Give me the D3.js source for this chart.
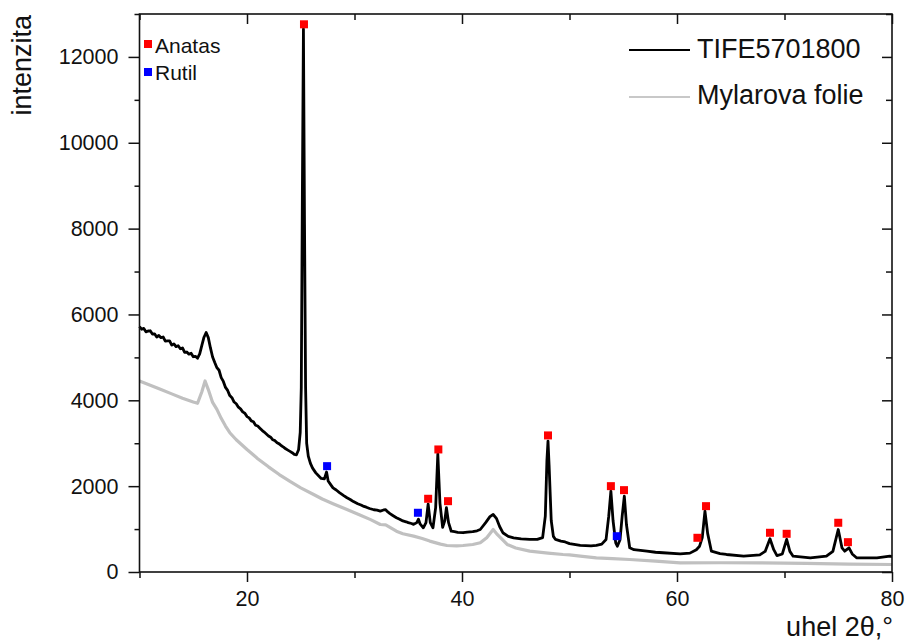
<!DOCTYPE html>
<html>
<head>
<meta charset="utf-8">
<script src="https://cdn.jsdelivr.net/npm/d3@7"></script>
<style>
  body { margin: 0; background: #fff; }
  text { font-family: Arial, "Liberation Sans", sans-serif; fill: #111; }
</style>
</head>
<body>
<div id="chart"></div>
<script>
// sample TIFE5701800, [2theta, intensity]
const tife = [
  [10,5720],[10.2,5655],[10.4,5675],[10.6,5595],[10.8,5615],[11,5620],[11.2,5545],[11.4,5550],
  [11.6,5475],[11.8,5510],[12,5460],[12.2,5475],[12.4,5380],[12.6,5385],[12.8,5385],[13,5285],
  [13.2,5315],[13.4,5250],[13.6,5270],[13.8,5200],[14,5220],[14.2,5115],[14.4,5125],[14.6,5075],
  [14.8,5095],[15,5015],[15.2,5025],[15.4,4980],[15.6,5080],[15.8,5280],[16,5470],[16.2,5580],
  [16.4,5460],[16.6,5220],[16.8,5010],[17,4880],[17.2,4760],[17.4,4700],[17.6,4530],[17.8,4440],
  [18,4300],[18.2,4230],[18.4,4110],[18.6,4060],[18.8,3960],[19,3920],[19.2,3840],[19.4,3800],
  [19.6,3730],[19.8,3700],[20,3620],[20.2,3590],[20.4,3520],[20.6,3500],[20.8,3420],[21,3400],
  [21.2,3350],[21.4,3300],[21.6,3260],[21.8,3215],[22,3170],[22.2,3140],[22.4,3080],[22.6,3060],
  [22.8,3010],[23,2985],[23.2,2940],[23.4,2910],[23.6,2870],[23.8,2840],[24,2810],[24.2,2780],
  [24.4,2740],[24.6,2730],[24.8,2850],[24.95,3250],[25.05,4300],[25.15,8800],[25.25,12650],
  [25.35,8100],[25.45,4300],[25.55,3000],[25.7,2700],[25.9,2530],[26.1,2420],[26.4,2310],
  [26.7,2230],[26.9,2180],[27.2,2170],[27.4,2330],[27.55,2120],[27.8,2030],[28,1960],[28.3,1910],
  [28.6,1850],[29,1780],[29.3,1730],[29.6,1690],[29.9,1640],[30.3,1590],[30.6,1560],[30.8,1535],
  [31.1,1510],[31.4,1480],[31.8,1450],[32.1,1440],[32.4,1420],[32.7,1445],[32.9,1450],[33.1,1400],
  [33.3,1360],[33.6,1310],[33.9,1265],[34.2,1230],[34.5,1190],[34.8,1170],[35,1150],[35.3,1130],
  [35.5,1110],[35.8,1150],[35.95,1230],[36.1,1120],[36.4,1030],[36.65,1150],[36.85,1580],
  [37.05,1150],[37.3,1030],[37.55,1500],[37.75,2750],[37.95,1600],[38.2,1040],[38.4,1200],
  [38.55,1500],[38.75,1150],[39,950],[39.3,940],[39.6,925],[40.1,915],[40.5,930],[41,940],
  [41.4,960],[41.7,990],[42.2,1150],[42.6,1290],[42.9,1340],[43.2,1250],[43.5,1060],[43.8,915],
  [44.3,830],[44.8,797],[45.5,770],[46.3,758],[47,760],[47.5,800],[47.75,1300],[47.9,2600],
  [48,3050],[48.1,2500],[48.3,1200],[48.5,830],[48.7,758],[49.2,720],[49.6,700],[50,660],
  [51,618],[52,610],[52.5,618],[53,650],[53.4,758],[53.65,1300],[53.85,1885],[54.05,1200],
  [54.3,680],[54.45,600],[54.7,750],[54.9,1300],[55.1,1767],[55.3,1100],[55.6,565],[56,520],
  [57.2,485],[58,460],[58.7,448],[60.3,420],[61.2,440],[61.8,520],[62.1,601],[62.35,800],
  [62.6,1417],[62.85,900],[63.2,485],[64,430],[64.6,408],[66.2,368],[67.7,400],[68.2,480],
  [68.65,774],[69,520],[69.3,380],[69.8,420],[70.2,758],[70.5,480],[70.8,368],[72.4,331],
  [73.9,368],[74.5,480],[75,990],[75.35,560],[75.6,485],[76,564],[76.3,420],[76.7,331],
  [78.6,331],[79.8,368],[80,360]
];

// Mylarova folie
const mylar = [
  [10,4450],[11,4350],[12,4250],[13,4150],[14,4050],[15,3960],[15.4,3930],[15.8,4200],
  [16.1,4450],[16.4,4250],[16.8,3950],[17.2,3790],[17.6,3580],[18,3400],[18.4,3245],[19,3080],
  [20,2855],[21,2640],[21.5,2545],[22,2450],[23,2270],[24,2110],[25,1960],[26.2,1805],
  [27,1700],[28,1590],[29.3,1455],[30.5,1330],[31.5,1220],[32.4,1107],[32.9,1100],[33.9,950],
  [34.5,890],[35.5,835],[36.3,780],[37,720],[38,650],[38.6,618],[39.5,610],[40.1,618],
  [41,640],[41.7,680],[42.3,800],[42.9,990],[43.3,870],[44.2,641],[45,560],[46.3,485],
  [48,440],[49.4,408],[50,400],[51,370],[52.5,331],[54,310],[55.6,291],[58,255],[60.3,214],
  [64,215],[67.7,214],[72,200],[76,185],[80,175]
];

// phase markers [2theta, level]
const anatas = [
  [25.3,12760],[36.85,1706],[37.8,2855],[38.7,1650],[48.0,3182],[53.85,2000],[55.07,1907],
  [61.9,797],[62.7,1534],[68.65,914],[70.2,890],[75.0,1147],[75.9,695]
];
const rutil = [[27.45,2466],[35.9,1380],[54.4,834]];

const xMajor = [20, 40, 60, 80];
const xMinor = [10, 30, 50, 70];
const yMajor = [0, 2000, 4000, 6000, 8000, 10000, 12000];
const yMinor = [1000, 3000, 5000, 7000, 9000, 11000, 13000];

const width = 906;
const height = 642;
const margin = { top: 14, right: 14, bottom: 70, left: 139.5 };

const svg = d3.select('#chart')
  .append('svg')
  .attr('width', width)
  .attr('height', height);

const xScale = d3.scaleLinear().domain([10, 80]).range([margin.left, width - margin.right]);
const yScale = d3.scaleLinear().domain([0, 13000]).range([height - margin.bottom, margin.top]);

const line = d3.line()
  .x((d) => xScale(d[0]))
  .y((d) => yScale(d[1]));

svg.append('path')
  .datum(mylar)
  .attr('fill', 'none')
  .attr('stroke', '#c0c0c0')
  .attr('stroke-width', 3.2)
  .attr('stroke-linejoin', 'round')
  .attr('d', line);

svg.append('path')
  .datum(tife)
  .attr('fill', 'none')
  .attr('stroke', '#000')
  .attr('stroke-width', 2.8)
  .attr('stroke-linejoin', 'round')
  .attr('d', line);

// markers
const sq = 8;
svg.append('g').selectAll('rect')
  .data(anatas)
  .join('rect')
  .attr('x', (d) => xScale(d[0]) - sq / 2)
  .attr('y', (d) => yScale(d[1]) - sq / 2)
  .attr('width', sq).attr('height', sq)
  .attr('fill', '#ff0000');

svg.append('g').selectAll('rect')
  .data(rutil)
  .join('rect')
  .attr('x', (d) => xScale(d[0]) - sq / 2)
  .attr('y', (d) => yScale(d[1]) - sq / 2)
  .attr('width', sq).attr('height', sq)
  .attr('fill', '#0000ff');

// axes
const bottom = height - margin.bottom;
const right = width - margin.right;

function styleAxis(g) {
  g.select('.domain').remove();
  g.selectAll('.tick line').attr('stroke', '#111').attr('stroke-width', 1.5);
  g.selectAll('.tick text').attr('font-size', 21.5).attr('fill', '#111');
}

svg.append('g')
  .attr('transform', `translate(0, ${bottom})`)
  .call(d3.axisBottom(xScale).tickValues(xMajor).tickSize(10).tickPadding(9))
  .call(styleAxis);
svg.append('g')
  .attr('transform', `translate(0, ${bottom})`)
  .call(d3.axisBottom(xScale).tickValues(xMinor).tickSize(6).tickFormat(''))
  .call(styleAxis);

svg.append('g')
  .attr('transform', `translate(0, ${margin.top})`)
  .call(d3.axisTop(xScale).tickValues(xMajor).tickSize(-10).tickFormat(''))
  .call(styleAxis);
svg.append('g')
  .attr('transform', `translate(0, ${margin.top})`)
  .call(d3.axisTop(xScale).tickValues(xMinor).tickSize(-6).tickFormat(''))
  .call(styleAxis);

svg.append('g')
  .attr('transform', `translate(${margin.left}, 0)`)
  .call(d3.axisLeft(yScale).tickValues(yMajor).tickSize(11).tickPadding(10).tickFormat(d3.format('d')))
  .call(styleAxis);
svg.append('g')
  .attr('transform', `translate(${margin.left}, 0)`)
  .call(d3.axisLeft(yScale).tickValues(yMinor).tickSize(5).tickFormat(''))
  .call(styleAxis);

svg.append('g')
  .attr('transform', `translate(${right}, 0)`)
  .call(d3.axisRight(yScale).tickValues(yMajor).tickSize(-10).tickFormat(''))
  .call(styleAxis);
svg.append('g')
  .attr('transform', `translate(${right}, 0)`)
  .call(d3.axisRight(yScale).tickValues(yMinor).tickSize(-6).tickFormat(''))
  .call(styleAxis);

svg.append('rect')
  .attr('x', margin.left).attr('y', margin.top)
  .attr('width', right - margin.left).attr('height', bottom - margin.top)
  .attr('fill', 'none').attr('stroke', '#111').attr('stroke-width', 1.6);

// axis titles
svg.append('text')
  .attr('transform', 'translate(31, 15) rotate(-90)')
  .attr('text-anchor', 'end')
  .attr('font-size', 27)
  .text('intenzita');

svg.append('text')
  .attr('x', 893).attr('y', 636)
  .attr('text-anchor', 'end')
  .attr('font-size', 27)
  .text('uhel 2θ,°');

// phase legend
svg.append('rect').attr('x', 144).attr('y', 40).attr('width', sq).attr('height', sq).attr('fill', '#ff0000');
svg.append('text').attr('x', 155).attr('y', 53).attr('font-size', 21).text('Anatas');
svg.append('rect').attr('x', 144).attr('y', 68).attr('width', sq).attr('height', sq).attr('fill', '#0000ff');
svg.append('text').attr('x', 155).attr('y', 80).attr('font-size', 21).text('Rutil');

// series legend
svg.append('line').attr('x1', 629).attr('x2', 690).attr('y1', 50).attr('y2', 50)
  .attr('stroke', '#000').attr('stroke-width', 2);
svg.append('text').attr('x', 697).attr('y', 58).attr('font-size', 27).text('TIFE5701800');
svg.append('line').attr('x1', 629).attr('x2', 690).attr('y1', 97).attr('y2', 97)
  .attr('stroke', '#c8c8c8').attr('stroke-width', 2);
svg.append('text').attr('x', 697).attr('y', 104).attr('font-size', 27).text('Mylarova folie');
</script>
</body>
</html>
